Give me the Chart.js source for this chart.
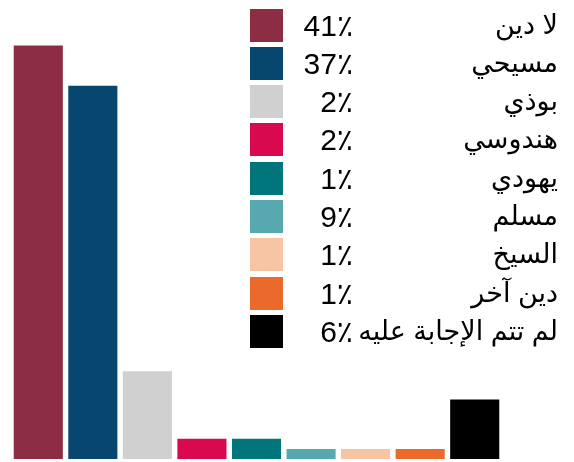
<!DOCTYPE html>
<html lang="ar">
<head>
<meta charset="utf-8">
<script src="https://cdn.jsdelivr.net/npm/chart.js@4"></script>
<style>
  html, body { margin: 0; padding: 0; background: #fff; }
  #wrap { position: relative; width: 574px; height: 462px; overflow: hidden; }
  #legenda { position: absolute; left: 0; top: 0; width: 574px; height: 462px; pointer-events: none;
             font-family: "Liberation Sans", Arial, "DejaVu Sans", sans-serif; color: #000; }
  .caixa { position: absolute; left: 250px; width: 33px; height: 33px; }
  .pct   { position: absolute; right: 221px; font-size: 30px; line-height: 33px; direction: ltr; white-space: nowrap; }
  .rotulo { position: absolute; right: 16px; font-size: 27px; line-height: 33px; direction: rtl; white-space: nowrap; }
</style>
</head>
<body>
<div id="wrap">
  <canvas id="grafico" width="574" height="462"></canvas>
  <div id="legenda"></div>
</div>
<script>
// ── Dados do gráfico ──
const categorias = ["لا دين", "مسيحي", "بوذي", "هندوسي", "يهودي", "مسلم", "السيخ", "دين آخر", "لم تتم الإجابة عليه"];
const valoresBarras = [41, 37, 8.7, 2, 2, 1, 1, 1, 5.9];
const percentLegenda = ["41٪", "37٪", "2٪", "2٪", "1٪", "9٪", "1٪", "1٪", "6٪"];
const cores = ["#8c2d43", "#06466f", "#d0d0d0", "#d8094f", "#00767b", "#58a8af", "#f8c5a4", "#eb6a2b", "#000000"];

// ── Gráfico de barras ──
const ctx = document.getElementById("grafico").getContext("2d");
new Chart(ctx, {
  type: "bar",
  data: {
    labels: categorias,
    datasets: [{
      data: valoresBarras,
      backgroundColor: cores,
      borderWidth: 0,
      barPercentage: 0.9,
      categoryPercentage: 1.0,
    }]
  },
  options: {
    responsive: false,
    animation: false,
    layout: { padding: { left: 11, right: 72, top: 0, bottom: 3 } },
    plugins: { legend: { display: false }, tooltip: { enabled: false } },
    scales: {
      x: { display: false },
      y: { display: false, min: 0, max: 45.5 }
    }
  }
});

// ── Legenda (texto real em HTML) ──
const legenda = document.getElementById("legenda");
categorias.forEach((nome, i) => {
  const topo = 8.5 + i * 38.3;
  legenda.insertAdjacentHTML("beforeend", `
    <div class="caixa" style="top:${topo}px; background:${cores[i]}"></div>
    <div class="pct" style="top:${topo}px">${percentLegenda[i]}</div>
    <div class="rotulo" style="top:${topo}px">${nome}</div>`);
});
</script>
</body>
</html>
